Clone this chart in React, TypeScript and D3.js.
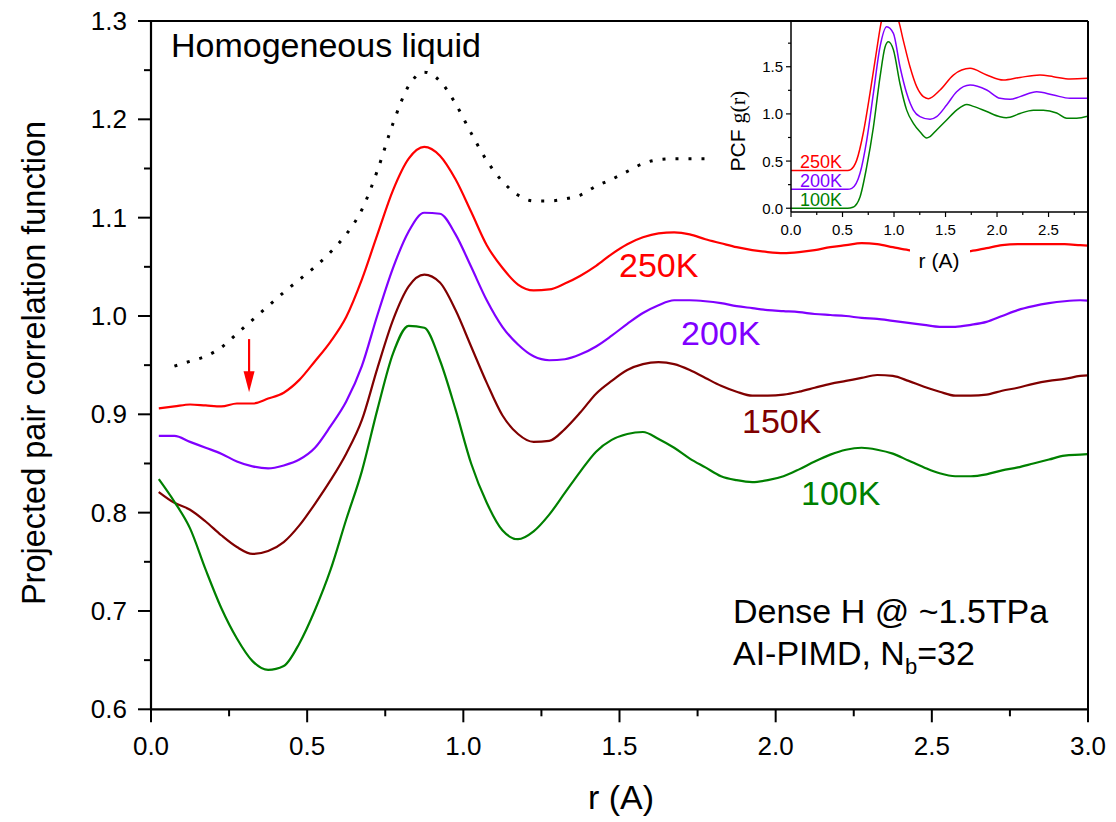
import React from "react";
import * as d3 from "d3";

// ---------- main panel data ----------
const rGrid = [
  0.025, 0.075, 0.125, 0.175, 0.225, 0.275, 0.325, 0.375, 0.425, 0.475,
  0.525, 0.575, 0.625, 0.675, 0.725, 0.775, 0.825, 0.875, 0.925, 0.975,
  1.025, 1.075, 1.125, 1.175, 1.225, 1.275, 1.325, 1.375, 1.425, 1.475,
  1.525, 1.575, 1.625, 1.675, 1.725, 1.775, 1.825, 1.875, 1.925, 1.975,
  2.025, 2.075, 2.125, 2.175, 2.225, 2.275, 2.325, 2.375, 2.425, 2.475,
  2.525, 2.575, 2.625, 2.675, 2.725, 2.775, 2.825, 2.875, 2.925, 2.975, 3.025,
];

const pcf250K = [
  0.906, 0.908, 0.910, 0.909, 0.908, 0.911, 0.911, 0.916, 0.922, 0.935,
  0.954, 0.974, 0.999, 1.037, 1.083, 1.128, 1.160, 1.172, 1.163, 1.139,
  1.106, 1.072, 1.049, 1.032, 1.026, 1.027, 1.033, 1.041, 1.051, 1.063,
  1.073, 1.080, 1.084, 1.085, 1.083, 1.078, 1.074, 1.070, 1.067, 1.065,
  1.064, 1.065, 1.067, 1.070, 1.072, 1.074, 1.073, 1.070, 1.067, 1.065,
  1.065, 1.065, 1.066, 1.069, 1.072, 1.073, 1.073, 1.073, 1.073, 1.072, 1.071,
];

const pcf200K = [
  0.878, 0.878, 0.872, 0.866, 0.860, 0.852, 0.847, 0.845, 0.848, 0.854,
  0.866, 0.888, 0.913, 0.949, 1.001, 1.049, 1.086, 1.105, 1.104, 1.083,
  1.050, 1.016, 0.989, 0.971, 0.959, 0.955, 0.956, 0.961, 0.969, 0.980,
  0.992, 1.003, 1.011, 1.016, 1.016, 1.015, 1.013, 1.010, 1.008, 1.006,
  1.005, 1.004, 1.002, 1.001, 1.000, 0.998, 0.997, 0.995, 0.993, 0.991,
  0.989, 0.989, 0.991, 0.994, 1.000, 1.006, 1.010, 1.013, 1.015, 1.016, 1.015,
];

const pcf150K = [
  0.821, 0.810, 0.803, 0.791, 0.777, 0.765, 0.758, 0.761, 0.770, 0.787,
  0.809, 0.833, 0.860, 0.894, 0.947, 0.996, 1.030, 1.042, 1.034, 1.006,
  0.969, 0.932, 0.899, 0.880, 0.872, 0.873, 0.885, 0.902, 0.921, 0.934,
  0.945, 0.951, 0.953, 0.951, 0.945, 0.937, 0.929, 0.923, 0.919, 0.919,
  0.920, 0.923, 0.927, 0.931, 0.934, 0.937, 0.940, 0.939, 0.934, 0.928,
  0.923, 0.919, 0.919, 0.920, 0.924, 0.927, 0.931, 0.934, 0.936, 0.939, 0.940,
];

const pcf100K = [
  0.834, 0.811, 0.784, 0.742, 0.703, 0.672, 0.649, 0.640, 0.644, 0.667,
  0.701, 0.742, 0.793, 0.842, 0.905, 0.962, 0.990, 0.988, 0.955, 0.905,
  0.850, 0.810, 0.782, 0.773, 0.781, 0.798, 0.820, 0.842, 0.862, 0.874,
  0.880, 0.882, 0.875, 0.866, 0.855, 0.846, 0.837, 0.833, 0.831, 0.833,
  0.837, 0.844, 0.852, 0.859, 0.864, 0.866, 0.864, 0.860, 0.853, 0.846,
  0.840, 0.837, 0.837, 0.839, 0.843, 0.846, 0.850, 0.854, 0.858, 0.859, 0.860,
];

const liquidR = [
  0.075, 0.125, 0.175, 0.225, 0.275, 0.325, 0.375, 0.425, 0.475, 0.525,
  0.575, 0.625, 0.675, 0.725, 0.775, 0.825, 0.875, 0.925, 0.975, 1.025,
  1.075, 1.125, 1.175, 1.225, 1.275, 1.325, 1.375, 1.425, 1.475, 1.525,
  1.575, 1.625, 1.675, 1.725, 1.775,
];
const liquidPcf = [
  0.949, 0.954, 0.959, 0.968, 0.982, 0.996, 1.010, 1.024, 1.037, 1.050,
  1.065, 1.083, 1.108, 1.148, 1.196, 1.234, 1.248, 1.239, 1.216, 1.186,
  1.158, 1.137, 1.123, 1.117, 1.117, 1.119, 1.123, 1.132, 1.139, 1.147,
  1.155, 1.159, 1.160, 1.160, 1.160,
];

const xTicks = [0, 0.5, 1.0, 1.5, 2.0, 2.5, 3.0];
const xMinor = [0.25, 0.75, 1.25, 1.75, 2.25, 2.75];
const yTicks = [0.6, 0.7, 0.8, 0.9, 1.0, 1.1, 1.2, 1.3];
const yMinor = [0.65, 0.75, 0.85, 0.95, 1.05, 1.15, 1.25];

// ---------- inset data ----------
const inset100R = [0.0, 0.55, 0.6, 0.67, 0.735, 0.8, 0.864, 0.913, 0.945, 0.994, 1.058, 1.123, 1.188, 1.252, 1.317, 1.35, 1.414, 1.511, 1.608, 1.706, 1.77, 1.9, 2.029, 2.09, 2.126, 2.223, 2.353, 2.45, 2.579, 2.676, 2.773, 2.88];
const inset100G = [0.0, 0.0, 0.01, 0.12, 0.44, 0.86, 1.39, 1.71, 1.765, 1.68, 1.32, 1.04, 0.9, 0.81, 0.745, 0.76, 0.83, 0.935, 1.04, 1.1, 1.08, 1.025, 0.97, 0.96, 0.965, 1.005, 1.04, 1.04, 1.01, 0.955, 0.955, 0.975];

const inset200R = [0.0, 0.55, 0.59, 0.67, 0.735, 0.8, 0.864, 0.929, 0.994, 1.058, 1.123, 1.188, 1.252, 1.35, 1.414, 1.511, 1.608, 1.738, 1.9, 2.029, 2.126, 2.223, 2.385, 2.547, 2.709, 2.887];
const inset200G = [0.2, 0.2, 0.21, 0.37, 0.72, 1.22, 1.71, 1.924, 1.854, 1.5, 1.218, 1.041, 0.971, 0.943, 0.971, 1.094, 1.235, 1.306, 1.253, 1.165, 1.155, 1.183, 1.235, 1.2, 1.165, 1.165];

const inset250R = [0.0, 0.55, 0.58, 0.638, 0.702, 0.767, 0.832, 0.88, 0.94, 1.042, 1.09, 1.155, 1.22, 1.285, 1.333, 1.447, 1.576, 1.738, 1.9, 2.061, 2.223, 2.417, 2.547, 2.709, 2.887];
const inset250G = [0.4, 0.4, 0.41, 0.51, 0.8, 1.22, 1.68, 1.995, 2.15, 1.995, 1.78, 1.5, 1.289, 1.183, 1.162, 1.253, 1.412, 1.483, 1.412, 1.359, 1.387, 1.412, 1.395, 1.37, 1.377];

const insetXTicks = [0, 0.5, 1.0, 1.5, 2.0, 2.5];
const insetXMinor = [0.25, 0.75, 1.25, 1.75, 2.25, 2.75];
const insetYTicks = [0, 0.5, 1.0, 1.5];
const insetYMinor = [0.25, 0.75, 1.25, 1.75];

const FONT = "Arial, 'Liberation Sans', Helvetica, sans-serif";
const RED = "#ff0000";
const PURPLE = "#8000ff";
const MAROON = "#800000";
const GREEN = "#008000";

export default function App() {
  const W = 1116;
  const H = 822;
  const x = d3.scaleLinear().domain([0, 3]).range([151, 1088]);
  const y = d3.scaleLinear().domain([0.6, 1.3]).range([709.3, 21]);

  const line = (rs: number[], vs: number[]) =>
    d3
      .line<number>()
      .x((_, i) => x(rs[i]))
      .y((v) => y(v))
      .curve(d3.curveMonotoneX)(vs) as string;

  const series = [
    { vals: pcf250K, color: RED },
    { vals: pcf200K, color: PURPLE },
    { vals: pcf150K, color: MAROON },
    { vals: pcf100K, color: GREEN },
  ];

  // inset scales
  const ix = d3.scaleLinear().domain([0, 2.883]).range([791, 1088]);
  const iy = d3.scaleLinear().domain([-0.04, 1.985]).range([212, 21]);
  const iline = (rs: number[], vs: number[]) =>
    d3
      .line<number>()
      .x((_, i) => ix(rs[i]))
      .y((v) => iy(v))
      .curve(d3.curveMonotoneX)(vs) as string;

  const insetSeries = [
    { r: inset250R, g: inset250G, color: RED, label: "250K" },
    { r: inset200R, g: inset200G, color: PURPLE, label: "200K" },
    { r: inset100R, g: inset100G, color: GREEN, label: "100K" },
  ];

  const [x0, x1] = x.range();
  const [y0, y1] = y.range();

  // arrow annotation in data coords
  const arrowR = 0.314;
  const arrowTop = 0.9765;
  const arrowTip = 0.9225;

  const BIG = 34;
  const TICK = 26;

  return (
    <svg
      width={W}
      height={H}
      style={{ position: "absolute", left: 0, top: 0, background: "#fff" }}
      fontFamily={FONT}
    >
      <defs>
        <clipPath id="mainClip">
          <rect x={x0} y={y1} width={x1 - x0} height={y0 - y1} />
        </clipPath>
        <clipPath id="insetClip">
          <rect x={ix(0)} y={iy(1.985)} width={ix(2.883) - ix(0)} height={iy(-0.04) - iy(1.985)} />
        </clipPath>
      </defs>
      <rect x={0} y={0} width={W} height={H} fill="#fff" />

      {/* main curves */}
      <g clipPath="url(#mainClip)">
        <path
          d={line(liquidR, liquidPcf)}
          fill="none"
          stroke="#000"
          strokeWidth={3}
          strokeDasharray="3 10"
        />
        {series.map((s, i) => (
          <path key={i} d={line(rGrid, s.vals)} fill="none" stroke={s.color} strokeWidth={2.2} strokeLinejoin="round" />
        ))}
      </g>

      {/* arrow */}
      <line x1={x(arrowR)} x2={x(arrowR)} y1={y(arrowTop)} y2={y(arrowTip) - 14} stroke={RED} strokeWidth={2.2} />
      <polygon
        points={`${x(arrowR) - 5.5},${y(arrowTip) - 21} ${x(arrowR) + 5.5},${y(arrowTip) - 21} ${x(arrowR)},${y(arrowTip)}`}
        fill={RED}
      />

      {/* main labels */}
      <text x={171} y={57} fontSize={BIG} fill="#000">Homogeneous liquid</text>
      <text x={619} y={277} fontSize={BIG} fill={RED}>250K</text>
      <text x={681} y={345} fontSize={BIG} fill={PURPLE}>200K</text>
      <text x={742} y={433} fontSize={BIG} fill={MAROON}>150K</text>
      <text x={801} y={505} fontSize={BIG} fill={GREEN}>100K</text>
      <text x={733} y={623} fontSize={BIG} fill="#000">Dense H @ ~1.5TPa</text>
      <text x={733} y={665} fontSize={BIG} fill="#000">
        AI-PIMD, N<tspan fontSize={22} dy={9}>b</tspan>
        <tspan dy={-9}>=32</tspan>
      </text>

      {/* inset */}
      <rect x={706} y={21} width={1088 - 706} height={217} fill="#fff" />
      <rect x={910} y={240} width={60} height={36} fill="#fff" />
      <g clipPath="url(#insetClip)">
        {insetSeries.map((s, i) => (
          <path key={i} d={iline(s.r, s.g)} fill="none" stroke={s.color} strokeWidth={1.5} />
        ))}
      </g>
      {insetSeries.map((s, i) => (
        <text key={i} x={800} y={168 + i * 18.8} fontSize={18} fill={s.color}>{s.label}</text>
      ))}
      <line x1={ix(0)} x2={ix(0)} y1={iy(1.985)} y2={iy(-0.04)} stroke="#000" strokeWidth={1.5} />
      <line x1={ix(0)} x2={ix(2.883)} y1={iy(-0.04)} y2={iy(-0.04)} stroke="#000" strokeWidth={1.5} />
      {insetXTicks.map((t) => (
        <g key={t}>
          <line x1={ix(t)} x2={ix(t)} y1={iy(-0.04)} y2={iy(-0.04) + 5} stroke="#000" strokeWidth={1.2} />
          <text x={ix(t)} y={235} fontSize={15} textAnchor="middle">{t.toFixed(1)}</text>
        </g>
      ))}
      {insetXMinor.map((t) => (
        <line key={t} x1={ix(t)} x2={ix(t)} y1={iy(-0.04)} y2={iy(-0.04) + 3} stroke="#000" strokeWidth={1.2} />
      ))}
      {insetYTicks.map((t) => (
        <g key={t}>
          <line x1={ix(0) - 5} x2={ix(0)} y1={iy(t)} y2={iy(t)} stroke="#000" strokeWidth={1.2} />
          <text x={783} y={iy(t)} fontSize={15} textAnchor="end" dominantBaseline="central">{t.toFixed(1)}</text>
        </g>
      ))}
      {insetYMinor.map((t) => (
        <line key={t} x1={ix(0) - 3} x2={ix(0)} y1={iy(t)} y2={iy(t)} stroke="#000" strokeWidth={1.2} />
      ))}
      <text x={939} y={268} fontSize={21} textAnchor="middle">r (A)</text>
      <text transform="translate(745,131) rotate(-90)" textAnchor="middle" fontSize={21}>
        PCF <tspan fontFamily="'Liberation Serif', 'DejaVu Serif', serif" fontSize={22}>g(r)</tspan>
      </text>

      {/* main frame & axes */}
      <line x1={x0} x2={x1} y1={y1} y2={y1} stroke="#000" strokeWidth={2} />
      <line x1={x1} x2={x1} y1={y1} y2={y0} stroke="#000" strokeWidth={2} />
      <line x1={x0} x2={x1 + 1} y1={y0} y2={y0} stroke="#000" strokeWidth={2.2} />
      <line x1={x0} x2={x0} y1={y1 - 1} y2={y0 + 1} stroke="#000" strokeWidth={2.2} />
      {xTicks.map((t) => (
        <g key={t}>
          <line x1={x(t)} x2={x(t)} y1={y0} y2={y0 + 13} stroke="#000" strokeWidth={2} />
          <text x={x(t)} y={755} fontSize={TICK} textAnchor="middle">{t.toFixed(1)}</text>
        </g>
      ))}
      {xMinor.map((t) => (
        <line key={t} x1={x(t)} x2={x(t)} y1={y0} y2={y0 + 7} stroke="#000" strokeWidth={2} />
      ))}
      {yTicks.map((t) => (
        <g key={t}>
          <line x1={x0 - 13} x2={x0} y1={y(t)} y2={y(t)} stroke="#000" strokeWidth={2} />
          <text x={127} y={y(t)} fontSize={TICK} textAnchor="end" dominantBaseline="central">{t.toFixed(1)}</text>
        </g>
      ))}
      {yMinor.map((t) => (
        <line key={t} x1={x0 - 7} x2={x0} y1={y(t)} y2={y(t)} stroke="#000" strokeWidth={2} />
      ))}
      <text x={621} y={809} fontSize={BIG} textAnchor="middle">r (A)</text>
      <text transform="translate(45,363) rotate(-90)" fontSize={32.5} textAnchor="middle">
        Projected pair correlation function
      </text>
    </svg>
  );
}
